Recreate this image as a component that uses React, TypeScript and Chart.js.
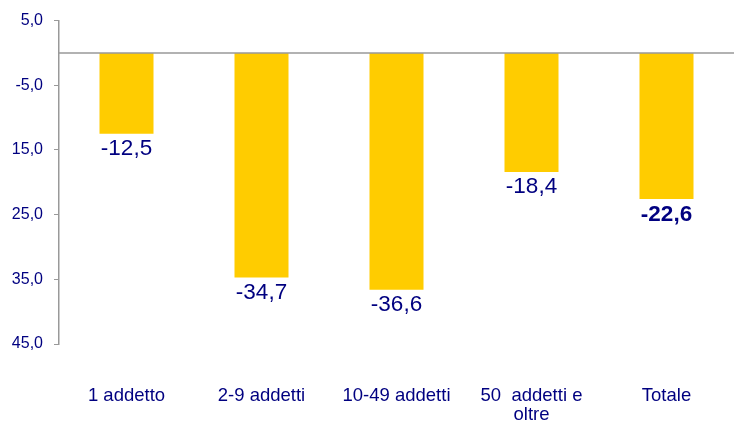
import React, { useEffect, useRef } from "react";
import { Chart, registerables } from "chart.js";

Chart.register(...registerables);

const categories: (string | string[])[] = ["1 addetto", "2-9 addetti", "10-49 addetti", ["50  addetti e", "oltre"], "Totale"];
const values = [-12.5, -34.7, -36.6, -18.4, -22.6];
const boldLabel = [false, false, false, false, true];
const yTickLabels = ["45,0", "35,0", "25,0", "15,0", "-5,0", "5,0"];

const NAVY = "#000080";
const FONT = "'Liberation Sans', Arial, sans-serif";

const zeroLine = {
  id: "zeroLine",
  afterDatasetsDraw(chart: any) {
    const { ctx, chartArea, scales } = chart;
    const y = scales.y.getPixelForValue(0);
    ctx.save();
    ctx.strokeStyle = "#999999";
    ctx.lineWidth = 1.5;
    ctx.beginPath();
    ctx.moveTo(chartArea.left, y);
    ctx.lineTo(chartArea.right, y);
    ctx.stroke();
    ctx.restore();
  },
};

const valueLabels = {
  id: "valueLabels",
  afterDatasetsDraw(chart: any) {
    const { ctx } = chart;
    const meta = chart.getDatasetMeta(0);
    ctx.save();
    ctx.fillStyle = NAVY;
    ctx.textAlign = "center";
    ctx.textBaseline = "top";
    meta.data.forEach((bar: any, i: number) => {
      ctx.font = `${boldLabel[i] ? "bold " : ""}22.5px ${FONT}`;
      const txt = values[i].toFixed(1).replace(".", ",");
      ctx.fillText(txt, bar.x, bar.y + 4);
    });
    ctx.restore();
  },
};

export default function App() {
  const ref = useRef<HTMLCanvasElement>(null);
  useEffect(() => {
    document.body.style.margin = "0";
    const chart = new Chart(ref.current!, {
      type: "bar",
      data: {
        labels: categories,
        datasets: [
          {
            data: values,
            backgroundColor: "#FFCC00",
            borderWidth: 0,
            barPercentage: 0.4,
            categoryPercentage: 1,
          },
        ],
      },
      options: {
        animation: false,
        responsive: false,
        layout: { padding: { top: 19, right: 4, left: 0, bottom: 0 } },
        plugins: { legend: { display: false }, tooltip: { enabled: false } },
        scales: {
          x: {
            grid: { display: false },
            border: { display: false },
            ticks: {
              color: NAVY,
              font: { family: FONT, size: 18.5, lineHeight: 1.0 },
              padding: 35,
              maxRotation: 0,
              autoSkip: false,
            },
            afterFit(scale: any) {
              scale.height = 77;
            },
          },
          y: {
            min: -45,
            max: 5,
            ticks: {
              stepSize: 10,
              color: NAVY,
              font: { family: FONT, size: 16 },
              padding: 11,
              callback: (_v: any, i: number) => yTickLabels[i],
            },
            grid: { drawOnChartArea: false, drawTicks: true, tickLength: 5, color: "#999999" },
            border: { display: true, color: "#999999", width: 1.5 },
            afterFit(scale: any) {
              scale.width = 59;
            },
          },
        },
      },
      plugins: [zeroLine, valueLabels],
    });
    return () => chart.destroy();
  }, []);
  return (
    <div style={{ width: 738, height: 421, overflow: "hidden" }}>
      <canvas ref={ref} width={738} height={421} style={{ display: "block" }} />
    </div>
  );
}
